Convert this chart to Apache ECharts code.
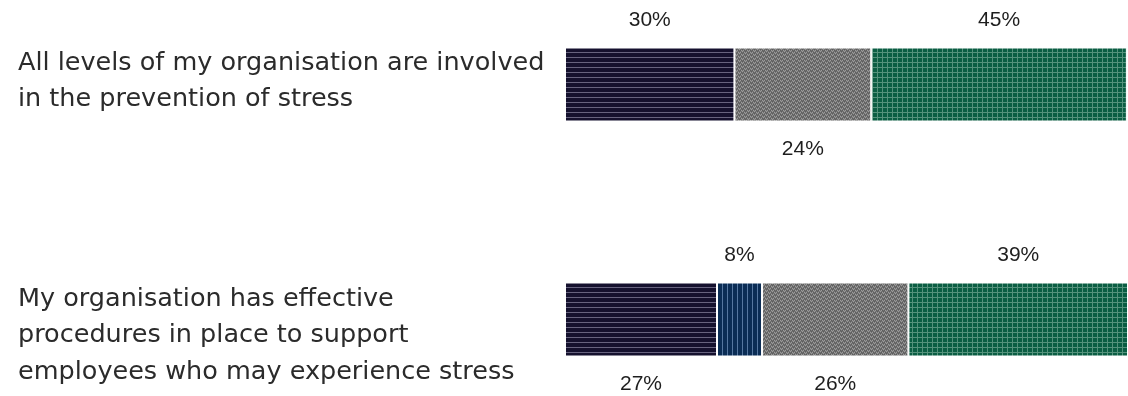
<!DOCTYPE html>
<html>
<head>
<meta charset="utf-8">
<script src="https://cdn.jsdelivr.net/npm/echarts@6/dist/echarts.min.js"></script>
<style>
html,body{margin:0;padding:0;background:#fff;}
#chart{width:1128px;height:396px;}
</style>
</head>
<body>
<div id="chart"></div>
<script>
// ---- data ----
var categories = [
  "All levels of my organisation are involved\nin the prevention of stress",
  "My organisation has effective\nprocedures in place to support\nemployees who may experience stress"
];
var seriesNames = ["Disagree", "Don't know", "Neither agree nor disagree", "Agree"];
var disagree = [30.1, 27];
var dontKnow = [0, 8];
var neither  = [24.3, 26];
var agree    = [45.4, 39];
// label side for each value (top / bottom), per series, per category
var labelSides = [
  ["top", "bottom"],
  ["top", "top"],
  ["bottom", "bottom"],
  ["top", "top"]
];

// ---- patterns (style only) ----
function makeCanvas(w, h, draw) {
  var c = document.createElement('canvas');
  c.width = w; c.height = h;
  draw(c.getContext('2d'));
  return c;
}
var patDark = makeCanvas(8, 5, function (g) {
  g.fillStyle = '#15112e'; g.fillRect(0, 0, 8, 5);
  g.fillStyle = '#67637f'; g.fillRect(0, 2, 8, 1);
});
var patBlue = makeCanvas(5, 8, function (g) {
  g.fillStyle = '#0b2d55'; g.fillRect(0, 0, 5, 8);
  g.fillStyle = '#5677a0'; g.fillRect(2, 0, 1, 8);
});
var patGray = makeCanvas(6, 4, function (g) {
  g.fillStyle = '#737373'; g.fillRect(0, 0, 6, 4);
  g.fillStyle = '#9c9c9c';
  g.fillRect(0, 0, 1, 1); g.fillRect(1, 1, 1, 1); g.fillRect(2, 0, 1, 1);
  g.fillRect(3, 2, 1, 1); g.fillRect(4, 3, 1, 1); g.fillRect(5, 2, 1, 1);
  g.fillStyle = '#5c5c5c';
  g.fillRect(0, 2, 1, 1); g.fillRect(2, 2, 1, 1); g.fillRect(4, 1, 1, 1);
  g.fillRect(1, 3, 1, 1); g.fillRect(3, 0, 1, 1); g.fillRect(5, 0, 1, 1);
});
var patGreen = makeCanvas(5, 5, function (g) {
  g.fillStyle = '#0b5d43'; g.fillRect(0, 0, 5, 5);
  g.fillStyle = '#55927c';
  g.fillRect(0, 2, 5, 1); g.fillRect(2, 0, 1, 5);
});
var patterns = [patDark, patBlue, patGray, patGreen];
var seriesValues = [disagree, dontKnow, neither, agree];

var chart = echarts.init(document.getElementById('chart'), null, {renderer: 'canvas'});

var series = seriesValues.map(function (vals, si) {
  return {
    name: seriesNames[si],
    type: 'bar',
    stack: 'total',
    barWidth: 74,
    itemStyle: {
      color: {image: patterns[si], repeat: 'repeat'},
      borderColor: '#ffffff',
      borderWidth: 1
    },
    label: {
      show: true,
      distance: 17,
      color: '#1e1e1e',
      fontFamily: 'Liberation Sans, Arial, sans-serif',
      fontSize: 21,
      formatter: function (p) {
        return p.value > 0 ? Math.round(p.value) + '%' : '';
      }
    },
    data: vals.map(function (v, ci) {
      return {value: v, label: {position: labelSides[si][ci]}};
    })
  };
});

chart.setOption({
  animation: false,
  backgroundColor: '#ffffff',
  grid: {left: 565, right: 0, top: 84.5, bottom: 76.5, containLabel: false, outerBoundsMode: 'none'},
  xAxis: {
    type: 'value', min: 0, max: 100,
    show: false
  },
  yAxis: {
    type: 'category',
    inverse: true,
    boundaryGap: false,
    data: categories,
    axisLine: {show: false},
    axisTick: {show: false},
    splitLine: {show: false},
    axisLabel: {
      margin: 547,
      align: 'left',
      formatter: function (value, index) {
        var lines = value.split('\n').map(function (l) { return '{t|' + l + '}'; });
        // top-align the text block with the bar: spacer above / below
        if (index === 1) {
          lines.unshift('{s1| }');
        } else {
          lines.push('{s0| }');
        }
        return lines.join('\n');
      },
      rich: {
        t: {
          color: '#2b2b2b',
          fontFamily: 'DejaVu Sans, sans-serif',
          fontSize: 25.5,
          lineHeight: 36.5,
          align: 'left'
        },
        s0: {fontSize: 4, lineHeight: 6},
        s1: {fontSize: 4, lineHeight: 32}
      }
    }
  },
  series: series
});
</script>
</body>
</html>
